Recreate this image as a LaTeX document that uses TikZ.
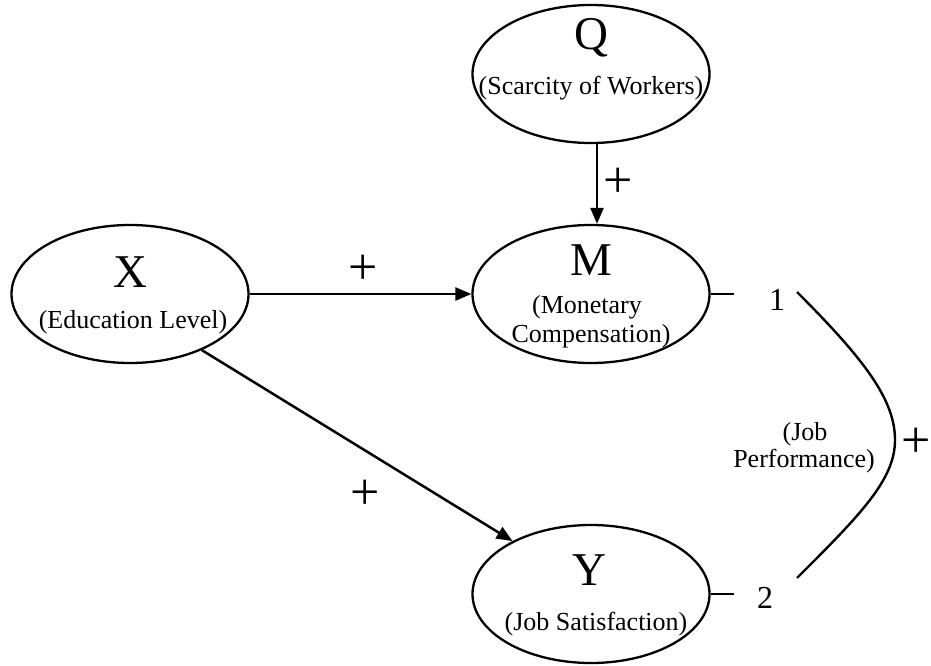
\documentclass[tikz,border=0pt]{standalone}
\usepackage{fontspec}
\setmainfont{Liberation Serif}
\usetikzlibrary{shapes.geometric,arrows.meta}
\begin{document}
\begin{tikzpicture}[x=1pt,y=-1pt,
  var/.style={ellipse,draw,line width=2.3pt,minimum width=237pt,minimum height=138pt,inner sep=0pt},
  big/.style={anchor=base,font=\fontsize{47}{47}\selectfont,inner sep=0pt},
  sub/.style={anchor=base,font=\fontsize{26}{26}\selectfont,inner sep=0pt},
  sign/.style={font=\fontsize{52}{52}\selectfont,inner sep=0pt},
  digit/.style={anchor=base,font=\fontsize{32}{32}\selectfont,inner sep=0pt},
  arr/.style={line width=2.5pt,-{Triangle[length=16pt,width=13pt]}},
  tie/.style={line width=2.4pt}]
\useasboundingbox (0,0) rectangle (931,666);

% variables
\node[var] (Q) at (591,74) {};
\node[var] (M) at (591,294) {};
\node[var] (X) at (130,294) {};
\node[var] (Y) at (591,594) {};

% variable labels
\node[big] (Qt) at (591,50) {Q};
\node[sub] (Qs) at (591,95) {(Scarcity of Workers)};
\node[big] (Xt) at (130,287) {X};
\node[sub] (Xs) at (133,328) {(Education Level)};
\node[big] (Mt) at (591,275) {M};
\node[sub] (Ms1) at (587,313) {(Monetary};
\node[sub] (Ms2) at (591,342) {Compensation)};
\node[big] (Yt) at (589,585) {Y};
\node[sub] (Ys) at (596,630) {(Job Satisfaction)};

% paths
\draw[arr] (X.east) -- (X.east -| M.west);
\draw[arr] ([xshift=6pt]Q.south) -- ([xshift=6pt]M.north);
\draw[arr] (X.-38) -- (Y.146);

% signs
\node[sign] (p1) at (363,270) {+};
\node[sign] (p2) at (365,495) {+};
\node[sign] (p3) at (618,183) {+};
\node[sign] (p4) at (916,443) {+};

% outcome ties
\draw[tie] (M.east) -- ++(23,0) coordinate (m1);
\draw[tie] (Y.east) -- ++(23,0) coordinate (y2);
\node[digit] (d1) at (777,310) {1};
\node[digit] (d2) at (765,608) {2};

% bracket joining the two outcomes
\coordinate (b1) at (797,292);
\coordinate (pk) at (895,440);
\coordinate (b2) at (797,578);
\draw[tie] (b1) .. controls (865,360) and (895,400) .. (pk)
               .. controls (895,480) and (860,515) .. (b2);
\node[sub] (jp1) at (805,440) {(Job};
\node[sub] (jp2) at (804,467) {Performance)};
\end{tikzpicture}
\end{document}
